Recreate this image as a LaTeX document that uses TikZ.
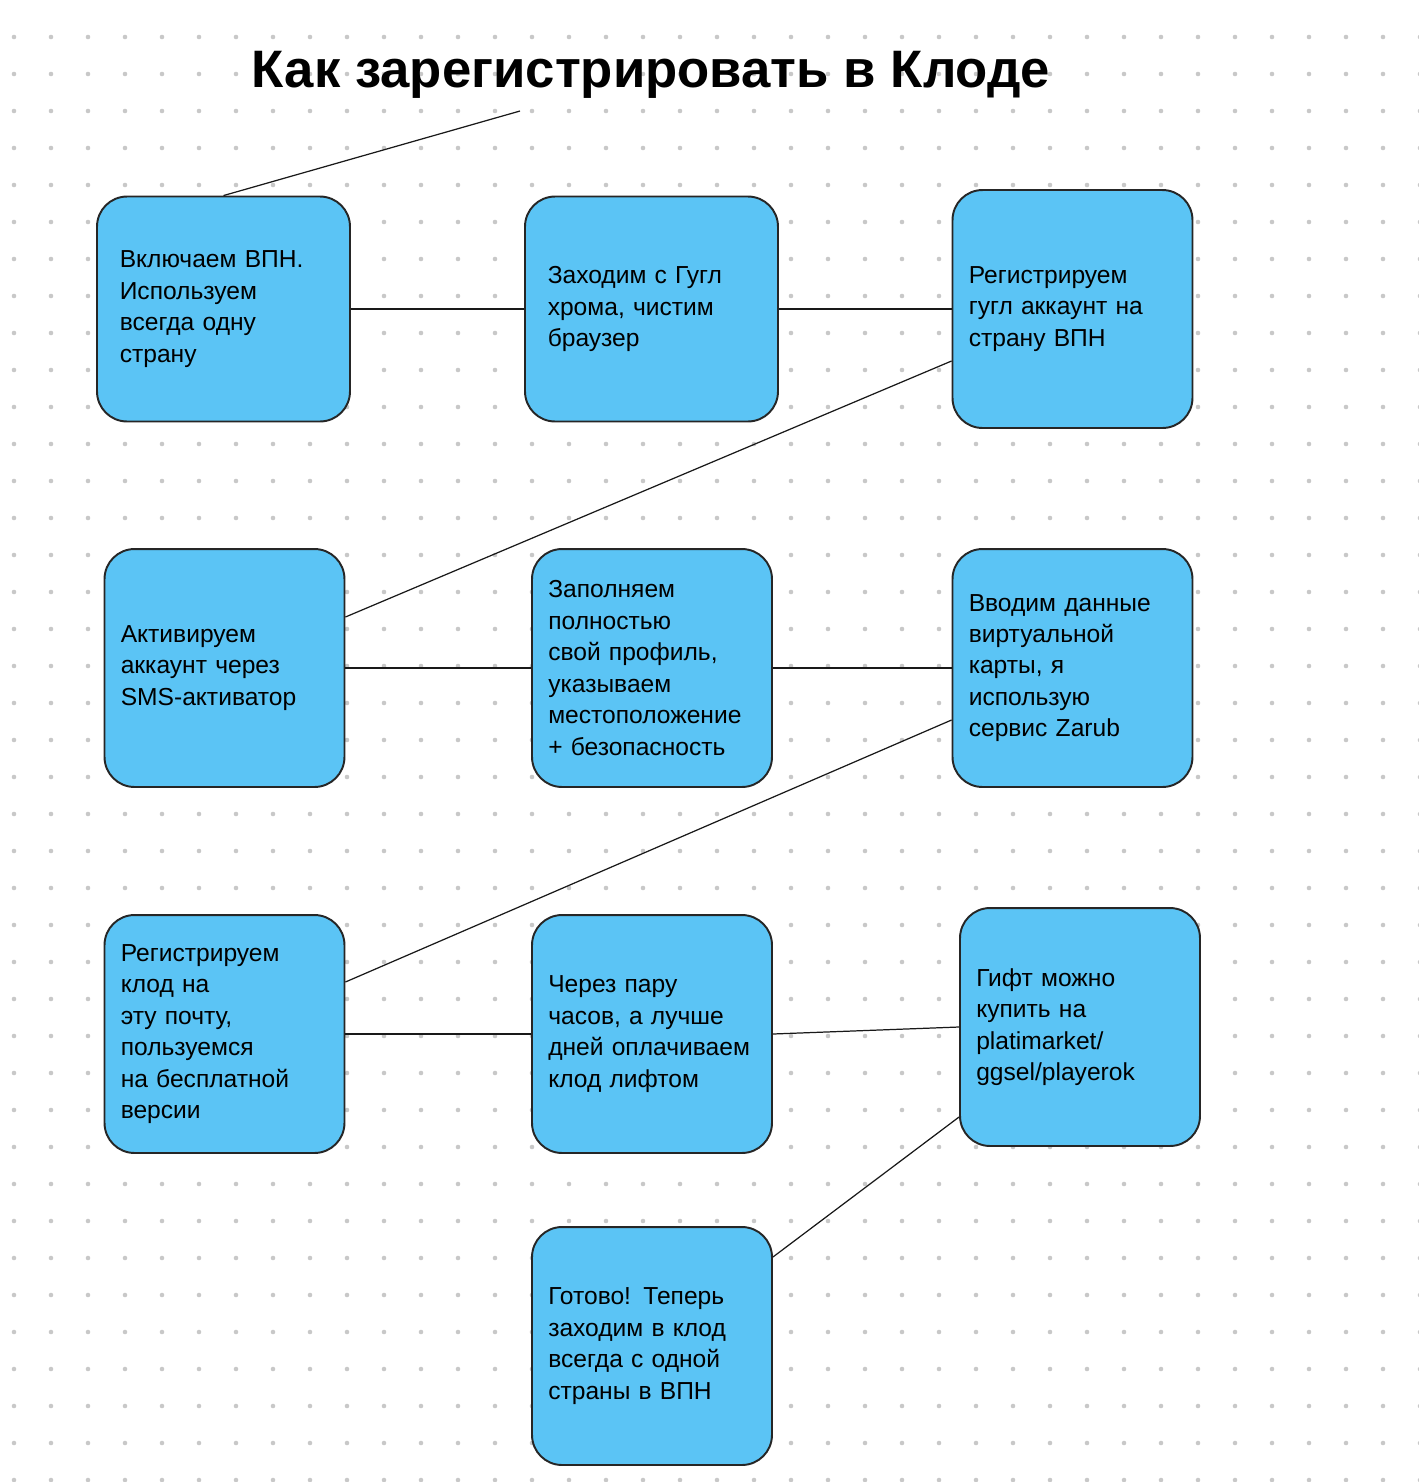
\documentclass[tikz,border=0pt]{standalone}
\usepackage{fontspec}
\setmainfont{Liberation Sans}
\usetikzlibrary{positioning,calc}
\definecolor{stepblue}{HTML}{5BC4F5}
\definecolor{gridgray}{HTML}{C8C8C8}

\tikzset{
	stepbox/.style={draw=black!85, line width=1.1pt, fill=stepblue, rounded corners=0.6cm,
		minimum width=4.8cm, minimum height=4.5cm, text width=4.15cm, align=left,
		font=\fontsize{14}{17.9}\selectfont, inner sep=0pt},
	link/.style={draw=black!90, line width=0.7pt}
}

\begin{document}
\begin{tikzpicture}[x=0.02cm,y=-0.02cm]
	\useasboundingbox (0,0) rectangle (1418,1482);
	\fill[white] (0,0) rectangle (1418,1482);
	% dot grid
	\foreach \i in {0,...,38} {
		\foreach \j in {0,...,39} {
			\fill[gridgray] (14+37*\i,37+37*\j) circle (1.3pt);
		}
	}
	\node[font=\bfseries\fontsize{30}{36}\selectfont] (title) at (651,75) {Как зарегистрировать в Клоде};
	\coordinate (tail) at (520,111);

	\node[stepbox, minimum width=5.06cm] (vpn) at (223.5,309) {Включаем ВПН. Используем всегда одну страну};
	\node[stepbox, minimum width=5.06cm] (chrome) at (651.5,309) {Заходим с Гугл хрома, чистим браузер};
	\node[stepbox, minimum height=4.76cm] (google) at (1072.5,309) {Регистрируем гугл аккаунт на страну ВПН};
	\node[stepbox, minimum height=4.76cm] (sms) at (224.5,668) {Активируем аккаунт через SMS-активатор};
	\node[stepbox, minimum height=4.76cm] (profile) at (652,668) {Заполняем полностью свой профиль, указываем местоположение + безопасность};
	\node[stepbox, minimum height=4.76cm] (card) at (1072.5,668) {Вводим данные виртуальной карты, я использую сервис Zarub};
	\node[stepbox, minimum height=4.76cm] (claude) at (224.5,1034) {Регистрируем клод на эту почту, пользуемся на бесплатной версии};
	\node[stepbox, minimum height=4.76cm] (pay) at (652,1034) {Через пару часов, а лучше дней оплачиваем клод лифтом};
	\node[stepbox, minimum height=4.76cm] (gift) at (1080,1027) {Гифт можно купить на platimarket/ ggsel/playerok};
	\node[stepbox, minimum height=4.76cm] (done) at (652,1346) {Готово! Теперь заходим в клод всегда с одной страны в ВПН};

	\draw[link] (tail) -- (vpn.north);
	\draw[link] (vpn) -- (chrome);
	\draw[link] (chrome) -- (google);
	\draw[link] ($(google.west)+(0,52)$) -- ($(sms.east)+(0,-51)$);
	\draw[link] (sms) -- (profile);
	\draw[link] (profile) -- (card);
	\draw[link] ($(card.west)+(0,52)$) -- ($(claude.east)+(0,-52)$);
	\draw[link] (claude) -- (pay);
	\draw[link] (pay.east) -- (gift.west);
	\draw[link] ($(gift.west)+(0,90)$) -- ($(done.east)+(0,-89)$);
\end{tikzpicture}
\end{document}
